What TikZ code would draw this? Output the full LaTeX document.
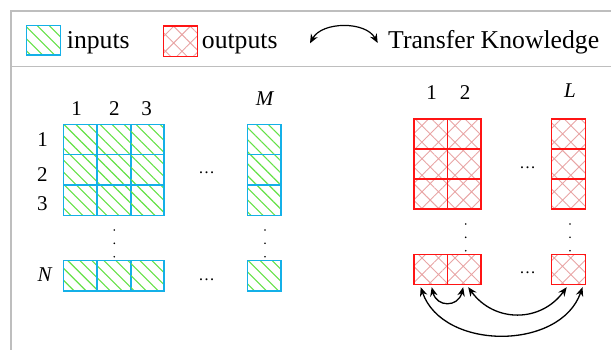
\documentclass[tikz,border=0pt]{standalone}
\usepackage{fontspec}
\setmainfont{Liberation Serif}
\usetikzlibrary{arrows.meta,patterns.meta}
\definecolor{framegray}{RGB}{190,190,190}
\definecolor{inborder}{RGB}{20,176,232}
\definecolor{inhatch}{RGB}{100,225,70}
\definecolor{outborder}{RGB}{255,20,20}
\definecolor{outhatch}{RGB}{232,165,165}

\begin{document}
\begin{tikzpicture}[x=1pt,y=1pt,
  incell/.style={rectangle,draw=inborder,line width=1.4pt,
    minimum width=33.6pt,minimum height=30.3pt,inner sep=0pt,
    pattern={Lines[angle=-45,distance=8.5pt,line width=1.1pt]},pattern color=inhatch},
  outcell/.style={rectangle,draw=outborder,line width=1.4pt,
    minimum width=33.5pt,minimum height=30pt,inner sep=0pt,
    pattern={Hatch[angle=45,distance=11.7pt,line width=0.9pt]},pattern color=outhatch},
  lab/.style={font=\fontsize{21}{25}\selectfont,anchor=base,inner sep=0pt},
  legtext/.style={font=\fontsize{25.7}{30}\selectfont,anchor=base west,inner sep=0pt},
  hdots/.style={font=\fontsize{16.5}{20}\selectfont,anchor=base,inner sep=0pt},
  vdot/.style={circle,fill=black,inner sep=0pt,minimum size=1.8pt},
  link/.style={line width=1.3pt,
    {Stealth[length=9pt,width=7.5pt]}-{Stealth[length=9pt,width=7.5pt]}}]

\useasboundingbox (0,0) rectangle (611,-349);

% frame and legend separator
\draw[framegray,line width=1.5pt] (11,-360) -- (11,-11) -- (620,-11);
\draw[framegray,line width=1.5pt] (11,-66.7) -- (620,-66.7);

% legend
\node[incell,minimum width=33.6pt,minimum height=29.3pt] (keyin) at (43.5,-40.4) {};
\node[legtext] (keyintext) at (66.7,-48.5) {inputs};
\node[outcell,minimum width=34.4pt,minimum height=30.7pt] (keyout) at (180.5,-41.3) {};
\node[legtext] (keyouttext) at (201.7,-48.5) {outputs};
\coordinate (keyarrL) at (310,-43.3);
\coordinate (keyarrR) at (377.7,-43);
\draw[link,line width=1.2pt] (keyarrL) .. controls +(12,22) and +(-12,22) .. (keyarrR);
\node[legtext] (keyarrtext) at (388,-48.5) {Transfer Knowledge};

% input grid
\foreach \r/\y in {1/139.5,2/169.8,3/200.1,N/275.7}{
  \foreach \c/\x in {1/80.3,2/114,3/147.3,M/264.2}{
    \node[incell] (i\r\c) at (\x,-\y) {};
  }
}
\node[lab] (icol1) at (76.7,-115) {1};
\node[lab] (icol2) at (114.3,-115) {2};
\node[lab] (icol3) at (146.7,-115) {3};
\node[lab] (icolM) at (265,-105.7) {\textit{M}};
\node[lab] (irow1) at (42.7,-146.7) {1};
\node[lab] (irow2) at (42.3,-181.7) {2};
\node[lab] (irow3) at (42.3,-210.5) {3};
\node[lab] (irowN) at (45,-281.7) {\textit{N}};
\node[hdots] (ih1) at (206.7,-173.7) {…};
\node[hdots] (ih2) at (206.7,-280) {…};
\foreach \k/\y in {1/230,2/243.3,3/256.7}{
  \node[vdot] (ivl\k) at (114.3,-\y) {};
  \node[vdot] (ivr\k) at (265,-\y) {};
}

% output grid
\foreach \r/\y in {1/134,2/164,3/194,N/269.3}{
  \foreach \c/\x in {1/430.7,2/464.2,L/568.5}{
    \node[outcell] (o\r\c) at (\x,-\y) {};
  }
}
\node[lab] (ocol1) at (431.7,-99) {1};
\node[lab] (ocol2) at (465,-99) {2};
\node[lab] (ocolL) at (570,-97.5) {\textit{L}};
\node[hdots] (oh1) at (527.7,-168) {…};
\node[hdots] (oh2) at (527.7,-273.7) {…};
\foreach \k/\y in {1/224,2/237.3,3/250.7}{
  \node[vdot] (ovl\k) at (465.7,-\y) {};
  \node[vdot] (ovr\k) at (570,-\y) {};
}

% knowledge transfer between output columns
\draw[link] ([xshift=1pt,yshift=-2.2pt]oN1.south) .. controls +(5,-20.3) and +(-5,-20.3) .. ([xshift=-1pt,yshift=-2.2pt]oN2.south);
\draw[link] ([xshift=4pt,yshift=-2.2pt]oN2.south) .. controls +(26,-35.7) and +(-26,-35.7) .. ([xshift=-1.8pt,yshift=-2.2pt]oNL.south);
\draw[link] ([xshift=-10pt,yshift=-2.2pt]oN1.south) .. controls +(22,-63.7) and +(-22,-63.7) .. ([xshift=14pt,yshift=-2.2pt]oNL.south);
\end{tikzpicture}
\end{document}
